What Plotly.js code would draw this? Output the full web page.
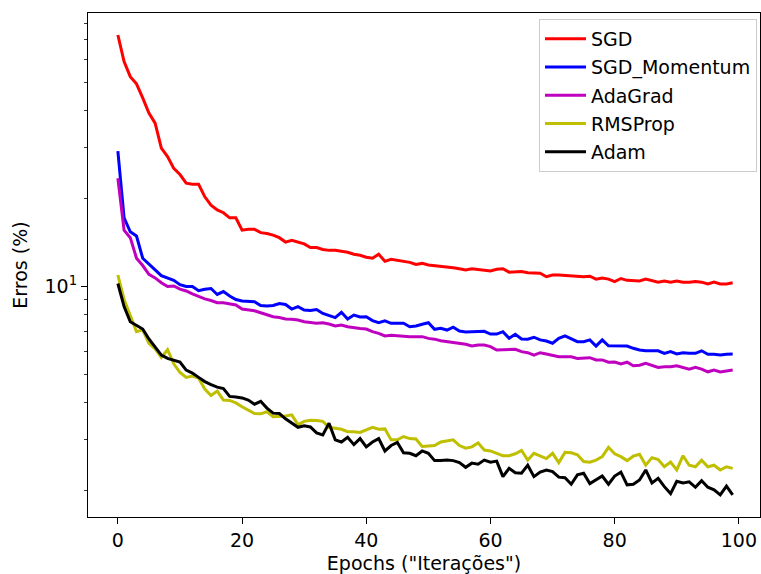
<!DOCTYPE html>
<html>
<head>
<meta charset="utf-8">
<script src="https://cdn.plot.ly/plotly-3.0.1.min.js"></script>
<style>html,body{margin:0;padding:0;background:#fff;}#chart{width:761px;height:574px;}</style>
</head>
<body>
<div id="chart"></div>
<script>
const seriesNames = ["SGD", "SGD_Momentum", "AdaGrad", "RMSProp", "Adam"];
const seriesColors = ["#ff0000", "#0000ff", "#bf00bf", "#bfbf00", "#000000"];

const sgd = [72.8,59.0,52.4,49.5,44.3,39.3,36.3,29.8,27.9,25.4,
  24.2,22.6,22.4,22.4,20.3,19.0,18.3,17.9,17.2,17.2,
  15.6,15.7,15.7,15.3,15.2,15.0,14.7,14.2,14.4,14.2,
  14.0,13.6,13.6,13.4,13.3,13.3,13.2,13.1,12.9,12.8,
  12.6,12.5,12.9,12.2,12.4,12.3,12.2,12.1,11.9,12.0,
  11.85,11.8,11.7,11.7,11.6,11.5,11.4,11.5,11.45,11.4,
  11.3,11.45,11.5,11.2,11.2,11.25,11.15,11.1,11.1,10.8,
  10.95,10.95,10.9,10.85,10.8,10.8,10.85,10.6,10.7,10.6,
  10.4,10.65,10.5,10.5,10.45,10.6,10.45,10.35,10.45,10.35,
  10.45,10.35,10.35,10.4,10.35,10.2,10.35,10.2,10.2,10.3];

const sgdMomentum = [29.1,17.2,15.4,14.9,12.5,11.9,11.4,10.9,10.7,10.5,
  10.15,10.0,10.0,9.67,9.79,9.84,9.39,9.61,9.28,9.02,
  8.92,8.87,8.87,8.61,8.57,8.61,8.74,8.68,8.37,8.53,
  8.31,8.27,8.34,8.08,7.94,7.82,8.16,7.74,7.98,7.86,
  7.87,7.64,7.51,7.62,7.48,7.48,7.48,7.28,7.32,7.42,
  7.51,7.13,7.19,7.09,7.25,7.04,6.98,7.0,7.0,7.02,
  6.87,6.87,7.0,6.64,6.86,6.61,6.6,6.7,6.56,6.5,
  6.39,6.64,6.77,6.6,6.47,6.47,6.56,6.25,6.56,6.26,
  6.26,6.25,6.25,6.14,6.06,6.02,6.02,6.02,5.9,5.98,
  5.87,5.93,5.9,5.9,6.02,5.86,5.86,5.82,5.86,5.87];

const adaGrad = [23.5,15.6,14.7,12.5,11.8,11.0,10.7,10.3,10.0,10.04,
  9.8,9.65,9.43,9.24,9.07,8.95,8.8,8.8,8.74,8.64,
  8.37,8.31,8.26,8.13,7.98,7.88,7.83,7.74,7.72,7.68,
  7.57,7.51,7.48,7.51,7.44,7.32,7.38,7.28,7.22,7.18,
  7.15,7.0,6.91,6.77,6.8,6.77,6.73,6.73,6.73,6.73,
  6.64,6.6,6.52,6.47,6.42,6.39,6.34,6.25,6.3,6.3,
  6.22,6.06,6.06,6.09,6.09,5.98,5.93,5.82,5.93,5.87,
  5.82,5.74,5.74,5.74,5.67,5.7,5.7,5.6,5.6,5.5,
  5.51,5.43,5.5,5.35,5.37,5.45,5.38,5.28,5.31,5.31,
  5.35,5.27,5.21,5.28,5.21,5.1,5.17,5.09,5.14,5.17];

const rmsProp = [10.95,9.03,7.95,7.0,7.1,6.39,6.11,5.71,6.07,5.43,
  5.07,4.88,4.93,4.85,4.45,4.23,4.38,4.08,4.07,3.99,
  3.87,3.76,3.67,3.66,3.72,3.58,3.58,3.6,3.63,3.36,
  3.45,3.48,3.47,3.45,3.29,3.27,3.24,3.18,3.18,3.16,
  3.22,3.29,3.24,3.25,2.98,2.98,3.06,3.01,3.0,2.83,
  2.84,2.85,2.93,2.95,2.98,2.85,2.79,2.82,2.91,2.75,
  2.73,2.68,2.63,2.63,2.67,2.74,2.54,2.68,2.62,2.57,
  2.68,2.49,2.7,2.69,2.65,2.51,2.5,2.54,2.61,2.81,
  2.67,2.61,2.53,2.62,2.66,2.44,2.59,2.55,2.41,2.5,
  2.35,2.63,2.44,2.41,2.54,2.41,2.44,2.35,2.41,2.38];

const adam = [10.24,8.53,7.57,7.35,7.15,6.61,6.22,5.82,5.67,5.6,
  5.51,5.17,5.05,4.88,4.72,4.61,4.52,4.47,4.2,4.18,
  4.15,4.08,3.95,4.04,3.83,3.68,3.67,3.52,3.41,3.29,
  3.33,3.3,3.15,3.1,3.4,2.98,2.93,3.04,2.87,3.01,
  2.82,2.93,3.01,2.73,2.85,2.92,2.69,2.68,2.63,2.73,
  2.68,2.53,2.53,2.54,2.53,2.49,2.4,2.48,2.46,2.54,
  2.5,2.52,2.23,2.38,2.3,2.29,2.44,2.23,2.31,2.35,
  2.32,2.22,2.21,2.1,2.26,2.29,2.11,2.18,2.24,2.1,
  2.24,2.31,2.09,2.1,2.17,2.35,2.12,2.2,2.06,1.95,
  2.15,2.12,2.14,2.05,2.16,2.05,2.01,1.93,2.07,1.93];

const yTickVals = [10];
const yTickText = ["10<sup>1</sup>"];
const yMinorVals = [2,3,4,5,6,7,8,9,20,30,40,50,60,70,80];
const xTickVals = [0,20,40,60,80,100];

const allSeries = [sgd, sgdMomentum, adaGrad, rmsProp, adam];
const epochs = sgd.map((_, i) => i);

const traces = allSeries.map((vals, k) => ({
  type: "scatter",
  mode: "lines",
  x: epochs,
  y: vals,
  name: seriesNames[k],
  legendgroup: "g" + k,
  line: {color: seriesColors[k], width: 3}
}));

const font = {family: "DejaVu Sans, sans-serif", size: 19, color: "#000"};

const layout = {
  width: 761, height: 574,
  margin: {l: 88, r: 1, t: 13, b: 57, autoexpand: false},
  paper_bgcolor: "#fff", plot_bgcolor: "#fff",
  font: font,
  showlegend: true,
  legend: {
    x: (757 - 88) / 672, xanchor: "right", xref: "paper",
    y: 1 - (19 - 13) / 504, yanchor: "top", yref: "paper",
    bgcolor: "rgba(255,255,255,0.8)", bordercolor: "#cccccc", borderwidth: 1,
    font: font, traceorder: "grouped", tracegroupgap: 0.5,
    itemwidth: 41
  },
  xaxis: {
    range: [-4.81, 103.4],
    tickmode: "array", tickvals: xTickVals,
    ticks: "outside", ticklen: 6, tickwidth: 1, tickcolor: "#000",
    showline: true, linecolor: "#000", linewidth: 1, mirror: true,
    showgrid: false, zeroline: false,
    title: {text: "Epochs (\"Iterações\")", font: font, standoff: 7}
  },
  yaxis: {
    type: "log",
    range: [0.2098, 1.9376],
    tickmode: "array", tickvals: yTickVals, ticktext: yTickText,
    ticks: "outside", ticklen: 6, tickwidth: 1, tickcolor: "#000",
    minor: {tickmode: "array", tickvals: yMinorVals, ticks: "outside", ticklen: 3.5, tickwidth: 0.8, tickcolor: "#000", showgrid: false},
    showline: true, linecolor: "#000", linewidth: 1, mirror: true,
    showgrid: false, zeroline: false,
    title: {text: "Erros (%)", font: font, standoff: 11}
  }
};

Plotly.newPlot("chart", traces, layout, {displayModeBar: false, staticPlot: true});
</script>
</body>
</html>
